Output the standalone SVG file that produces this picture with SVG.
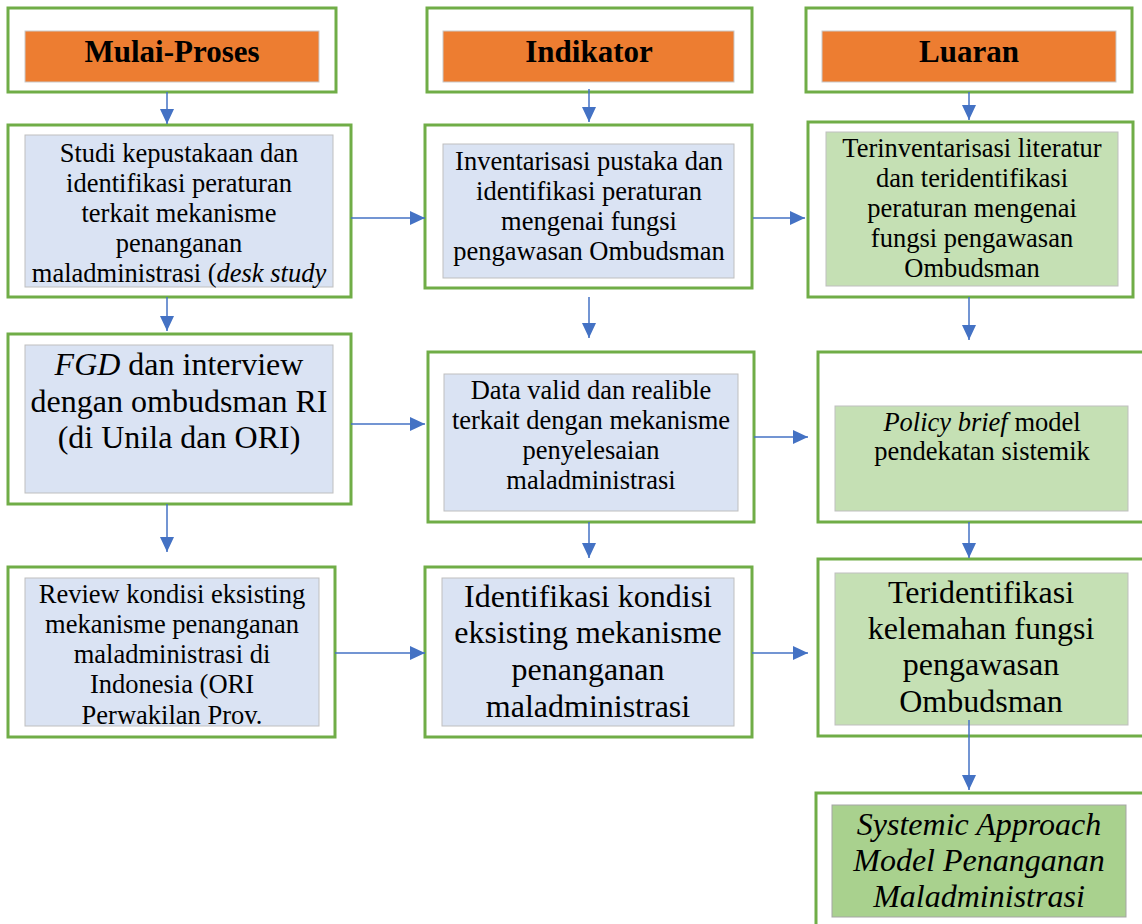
<svg xmlns="http://www.w3.org/2000/svg" width="1142" height="924" viewBox="0 0 1142 924">
<style>
.outer{fill:#fff;stroke:#70AD47;stroke-width:3}
.hdr{fill:#ED7D31;stroke:#C9C9C9;stroke-width:1}
.blue{fill:#DAE3F3;stroke:#BFBFBF;stroke-width:1}
.green{fill:#C5E0B4;stroke:#BFBFBF;stroke-width:1}
.dgreen{fill:#A9D18E;stroke:#A5A5A5;stroke-width:1}
text{font-family:"Liberation Serif","Times New Roman",serif;fill:#000;text-anchor:middle}
.h{font-size:31px;font-weight:bold}
.s{font-size:26.5px}
.l{font-size:32px}
.conn line{stroke:#4472C4;stroke-width:1.5;marker-end:url(#ah)}
</style>
<defs>
<marker id="ah" viewBox="0 0 15 14" refX="15" refY="7" markerWidth="15" markerHeight="14" markerUnits="userSpaceOnUse" orient="auto">
<path d="M0,0 L15,7 L0,14 z" fill="#4472C4"/>
</marker>
<clipPath id="c31"><rect x="25" y="578" width="294" height="148"/></clipPath>
</defs>
<rect width="1142" height="924" fill="#fff"/>

<g id="hdr1">
<rect class="outer" x="8" y="8" width="328" height="84"/>
<rect class="hdr" x="25" y="31" width="294" height="51"/>
<text class="h" x="172" y="62">Mulai-Proses</text>
</g>
<g id="hdr2">
<rect class="outer" x="427" y="8" width="325" height="84"/>
<rect class="hdr" x="443" y="31" width="291" height="51"/>
<text class="h" x="589" y="62">Indikator</text>
</g>
<g id="hdr3">
<rect class="outer" x="806" y="8" width="326" height="84"/>
<rect class="hdr" x="822" y="31" width="294" height="51"/>
<text class="h" x="969" y="62">Luaran</text>
</g>

<g id="n11">
<rect class="outer" x="8" y="125" width="343" height="172"/>
<rect class="blue" x="25" y="135" width="308" height="152"/>
<text class="s" x="179"><tspan x="179" y="162">Studi kepustakaan dan</tspan><tspan x="179" y="192">identifikasi peraturan</tspan><tspan x="179" y="222">terkait mekanisme</tspan><tspan x="179" y="252">penanganan</tspan><tspan x="179" y="282">maladministrasi (<tspan font-style="italic">desk study</tspan></tspan></text>
</g>
<g id="n12">
<rect class="outer" x="425" y="125" width="327" height="163"/>
<rect class="blue" x="443" y="144" width="291" height="134"/>
<text class="s" x="589"><tspan x="589" y="170">Inventarisasi pustaka dan</tspan><tspan x="589" y="200">identifikasi peraturan</tspan><tspan x="589" y="230">mengenai fungsi</tspan><tspan x="589" y="260">pengawasan Ombudsman</tspan></text>
</g>
<g id="n13">
<rect class="outer" x="808" y="122" width="325" height="175"/>
<rect class="green" x="826" y="132" width="292" height="154"/>
<text class="s" x="972"><tspan x="972" y="157">Terinventarisasi literatur</tspan><tspan x="972" y="187">dan teridentifikasi</tspan><tspan x="972" y="217">peraturan mengenai</tspan><tspan x="972" y="247">fungsi pengawasan</tspan><tspan x="972" y="277">Ombudsman</tspan></text>
</g>

<g id="n21">
<rect class="outer" x="8" y="334" width="343" height="170"/>
<rect class="blue" x="25" y="345" width="308" height="148"/>
<text class="l" x="179"><tspan x="179" y="375"><tspan font-style="italic">FGD</tspan> dan interview</tspan><tspan x="179" y="412">dengan ombudsman RI</tspan><tspan x="179" y="448">(di Unila dan ORI)</tspan></text>
</g>
<g id="n22">
<rect class="outer" x="428" y="352" width="326" height="170"/>
<rect class="blue" x="444" y="374" width="294" height="137"/>
<text class="s" x="591"><tspan x="591" y="399">Data valid dan realible</tspan><tspan x="591" y="429">terkait dengan mekanisme</tspan><tspan x="591" y="459">penyelesaian</tspan><tspan x="591" y="489">maladministrasi</tspan></text>
</g>
<g id="n23">
<rect class="outer" x="818" y="352" width="340" height="170"/>
<rect class="green" x="835" y="406" width="293" height="105"/>
<text class="s" x="982"><tspan x="982" y="431"><tspan font-style="italic">Policy brief</tspan> model</tspan><tspan x="982" y="460">pendekatan sistemik</tspan></text>
</g>

<g id="n31">
<rect class="outer" x="8" y="567" width="327" height="170"/>
<rect class="blue" x="25" y="578" width="294" height="148"/>
<text class="s" x="172" clip-path="url(#c31)"><tspan x="172" y="603">Review kondisi eksisting</tspan><tspan x="172" y="633">mekanisme penanganan</tspan><tspan x="172" y="663">maladministrasi di</tspan><tspan x="172" y="693">Indonesia (ORI</tspan><tspan x="172" y="724">Perwakilan Prov.</tspan></text>
</g>
<g id="n32">
<rect class="outer" x="425" y="567" width="327" height="170"/>
<rect class="blue" x="442" y="578" width="292" height="148"/>
<text class="l" x="588"><tspan x="588" y="607">Identifikasi kondisi</tspan><tspan x="588" y="643">eksisting mekanisme</tspan><tspan x="588" y="680">penanganan</tspan><tspan x="588" y="717">maladministrasi</tspan></text>
</g>
<g id="n33">
<rect class="outer" x="818" y="559" width="340" height="177"/>
<rect class="green" x="835" y="573" width="293" height="152"/>
<text class="l" x="981"><tspan x="981" y="603">Teridentifikasi</tspan><tspan x="981" y="639">kelemahan fungsi</tspan><tspan x="981" y="675">pengawasan</tspan><tspan x="981" y="712">Ombudsman</tspan></text>
</g>

<g id="n43">
<rect class="outer" x="816" y="793" width="340" height="150"/>
<rect class="dgreen" x="832" y="805" width="294" height="112"/>
<text class="l" x="979" font-style="italic"><tspan x="979" y="835">Systemic Approach</tspan><tspan x="979" y="871">Model Penanganan</tspan><tspan x="979" y="907">Maladministrasi</tspan></text>
</g>

<g id="connectors" class="conn">
<line x1="167" y1="92" x2="167" y2="124"/>
<line x1="589" y1="89" x2="589" y2="122"/>
<line x1="969" y1="92" x2="969" y2="120"/>
<line x1="351" y1="218" x2="425" y2="218"/>
<line x1="753" y1="218" x2="805" y2="218"/>
<line x1="167" y1="297" x2="167" y2="331"/>
<line x1="589" y1="297" x2="589" y2="338"/>
<line x1="969" y1="297" x2="969" y2="340"/>
<line x1="351" y1="424" x2="425" y2="424"/>
<line x1="754" y1="437" x2="808" y2="437"/>
<line x1="167" y1="504" x2="167" y2="552"/>
<line x1="589" y1="522" x2="589" y2="558"/>
<line x1="969" y1="522" x2="969" y2="558"/>
<line x1="335" y1="653" x2="425" y2="653"/>
<line x1="752" y1="653" x2="808" y2="653"/>
<line x1="969" y1="720" x2="969" y2="790"/>
</g>
</svg>
